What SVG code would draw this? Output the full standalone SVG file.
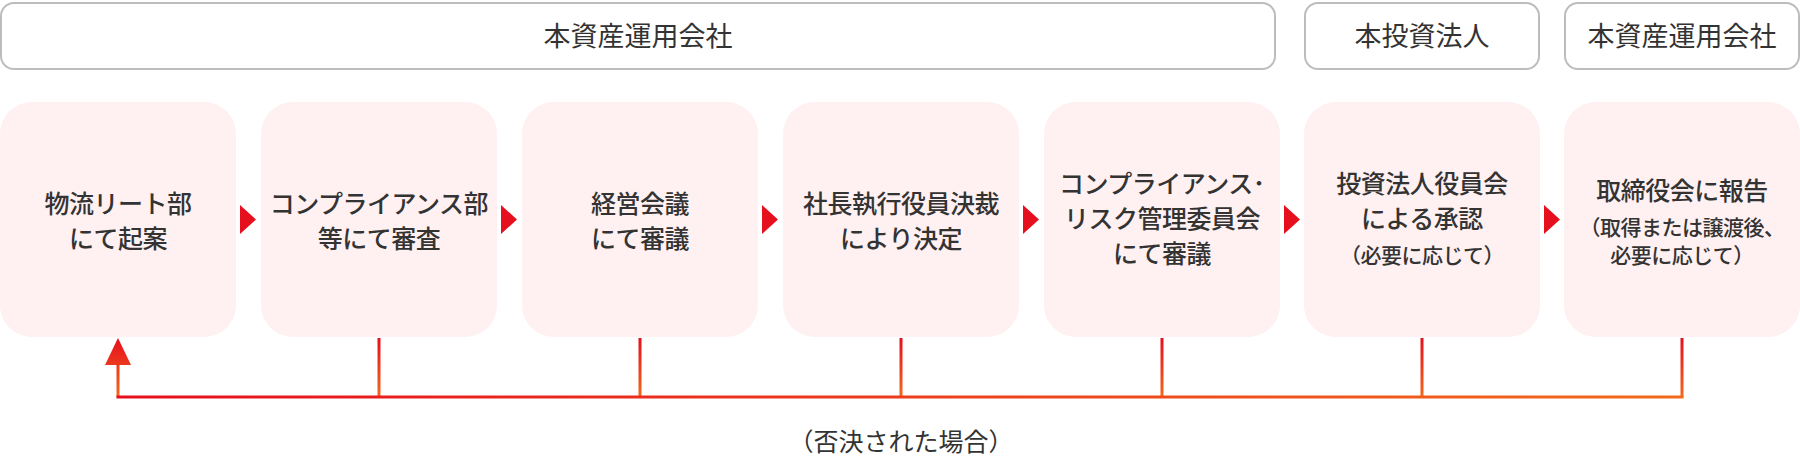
<svg xmlns="http://www.w3.org/2000/svg" width="1800" height="459" viewBox="0 0 1800 459">
<defs>
<linearGradient id="g" gradientUnits="userSpaceOnUse" x1="118" y1="0" x2="1682" y2="0"><stop offset="0" stop-color="#e60f1e"/><stop offset="1" stop-color="#f26a1b"/></linearGradient>
<linearGradient id="gv" gradientUnits="userSpaceOnUse" x1="0" y1="338" x2="0" y2="397"><stop offset="0" stop-color="#e60f1e"/><stop offset="1" stop-color="#f26a1b"/></linearGradient>
</defs>
<style>
.h{fill:#fff;stroke:#bdbdbd;stroke-width:2}
.ht{font-family:"Noto Sans CJK JP",sans-serif;font-size:27px;fill:#333;text-anchor:middle}
.n{fill:#fff0f1}
.t{font-family:"Noto Sans CJK JP",sans-serif;font-size:25px;font-weight:500;fill:#333;text-anchor:middle;letter-spacing:-0.5px}
.s{font-size:21px}
.a{fill:#e60f1e}
.v{stroke:url(#gv);stroke-width:3;fill:none}
</style>
<g id="headers">
<rect class="h" x="1" y="3" width="1274" height="66" rx="13"/><text class="ht" x="638" y="46">本資産運用会社</text>
<rect class="h" x="1305" y="3" width="234" height="66" rx="13"/><text class="ht" x="1422" y="46">本投資法人</text>
<rect class="h" x="1565" y="3" width="234" height="66" rx="13"/><text class="ht" x="1682" y="46">本資産運用会社</text>
</g>
<g id="n1"><rect class="n" x="0" y="102" width="236" height="235" rx="32"/><text class="t" x="118" y="213">物流リート部</text><text class="t" x="118" y="248">にて起案</text></g>
<g id="n2"><rect class="n" x="261" y="102" width="236" height="235" rx="32"/><text class="t" x="379" y="213">コンプライアンス部</text><text class="t" x="379" y="248">等にて審査</text></g>
<g id="n3"><rect class="n" x="522" y="102" width="236" height="235" rx="32"/><text class="t" x="640" y="213">経営会議</text><text class="t" x="640" y="248">にて審議</text></g>
<g id="n4"><rect class="n" x="783" y="102" width="236" height="235" rx="32"/><text class="t" x="901" y="213">社長執行役員決裁</text><text class="t" x="901" y="248">により決定</text></g>
<g id="n5"><rect class="n" x="1044" y="102" width="236" height="235" rx="32"/><text class="t" x="1162" y="193">コンプライアンス･</text><text class="t" x="1162" y="228">リスク管理委員会</text><text class="t" x="1162" y="263">にて審議</text></g>
<g id="n6"><rect class="n" x="1304" y="102" width="236" height="235" rx="32"/><text class="t" x="1422" y="193">投資法人役員会</text><text class="t" x="1422" y="228">による承認</text><text class="t s" x="1422" y="263">（必要に応じて）</text></g>
<g id="n7"><rect class="n" x="1564" y="102" width="236" height="235" rx="32"/><text class="t" x="1682" y="200">取締役会に報告</text><text class="t s" x="1682" y="235">（取得または譲渡後、</text><text class="t s" x="1682" y="263">必要に応じて）</text></g>
<g id="connectors">
<polygon class="a" points="240,205 256,219.5 240,234"/>
<polygon class="a" points="501,205 517,219.5 501,234"/>
<polygon class="a" points="762,205 778,219.5 762,234"/>
<polygon class="a" points="1023,205 1039,219.5 1023,234"/>
<polygon class="a" points="1284,205 1300,219.5 1284,234"/>
<polygon class="a" points="1544,205 1560,219.5 1544,234"/>
<path class="v" d="M379 338V397M640 338V397M901 338V397M1162 338V397M1422 338V397M1682 338V397M118 362V397"/>
<path d="M116.5 397H1683.5" stroke="url(#g)" stroke-width="3" fill="none"/>
<polygon points="118,338 131,365 105,365" fill="url(#gv)"/>
<text class="ht" x="901" y="451" style="font-size:25px">（否決された場合）</text>
</g>
</svg>
